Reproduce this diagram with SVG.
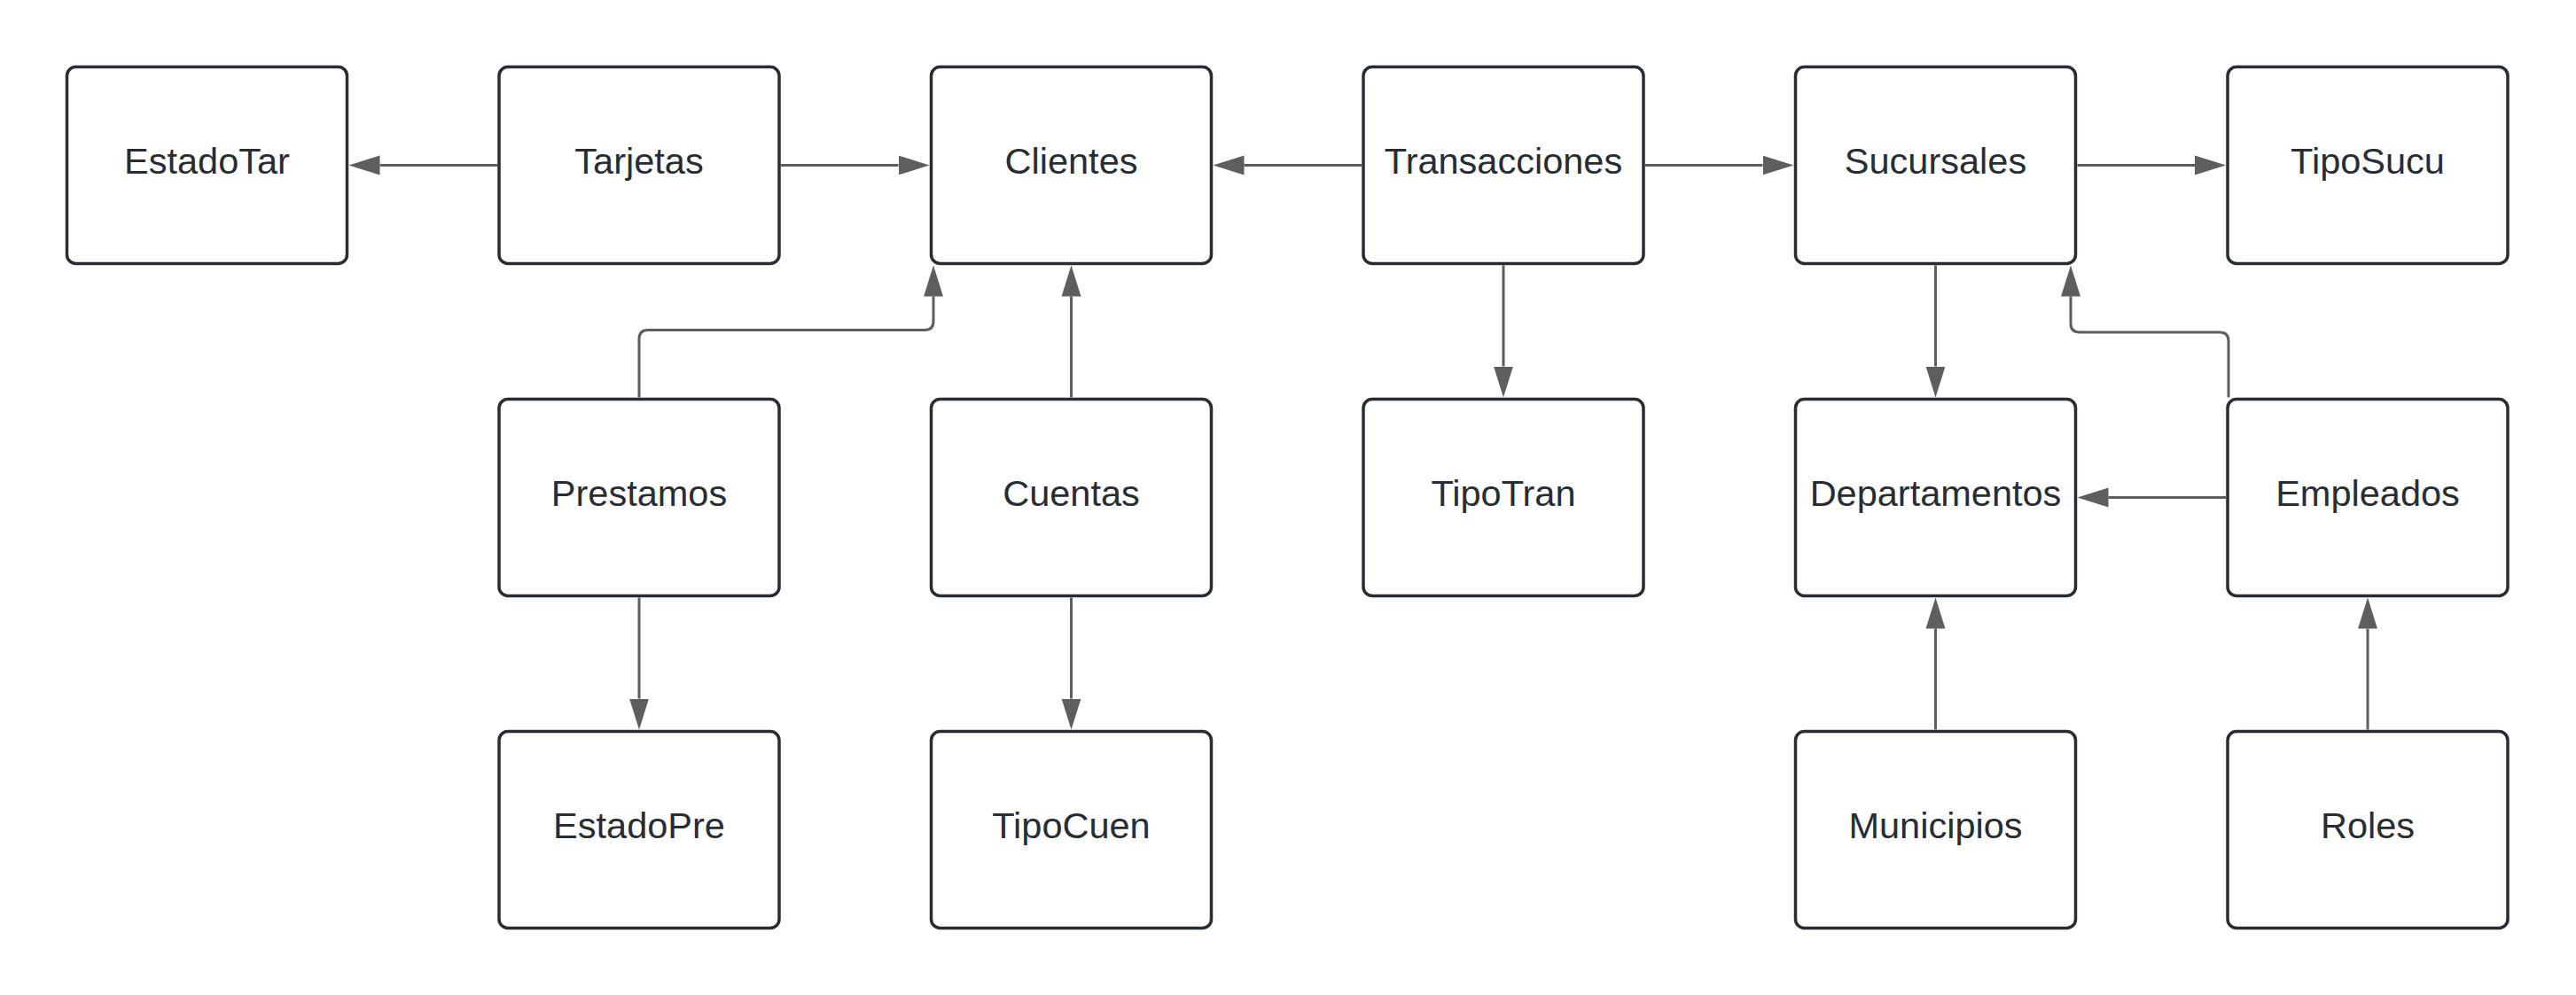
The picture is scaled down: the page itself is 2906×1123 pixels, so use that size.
<svg xmlns="http://www.w3.org/2000/svg" width="2906" height="1123" viewBox="0 0 2906 1123">
<style>
.box{fill:#ffffff;stroke:#282c33;stroke-width:3.5}
.lbl{font-family:"Liberation Sans",Arial,sans-serif;font-size:41.5px;fill:#282c33;text-anchor:middle}
.edge{fill:none;stroke:#5e5e5e;stroke-width:3;marker-end:url(#arr)}
</style>
<defs>
<marker id="arr" markerUnits="userSpaceOnUse" markerWidth="36" markerHeight="24" viewBox="0 -12 36 24" refX="0" refY="0" orient="auto">
<path d="M0,-11 L35,0 L0,11 Z" fill="#5e5e5e"/>
</marker>
</defs>
<rect width="2906" height="1123" fill="#ffffff"/>
<g id="connectors">
<path class="edge" d="M561,186.5 H428.5"/>
<path class="edge" d="M881,186.5 H1013.5"/>
<path class="edge" d="M1536,186.5 H1403.5"/>
<path class="edge" d="M1856,186.5 H1988.5"/>
<path class="edge" d="M2343.5,186.5 H2476"/>
<path class="edge" d="M721,448.5 V382.5 Q721,372.5 731,372.5 H1043 Q1053,372.5 1053,362.5 V334.5"/>
<path class="edge" d="M1208.5,448.5 V334.5"/>
<path class="edge" d="M1696,299.5 V413.5"/>
<path class="edge" d="M2183.5,299.5 V413.5"/>
<path class="edge" d="M2514,448.5 V385 Q2514,375 2504,375 H2346 Q2336,375 2336,365 V334.5"/>
<path class="edge" d="M2511,561.5 H2378.5"/>
<path class="edge" d="M2183.5,823.5 V709.5"/>
<path class="edge" d="M2671,823.5 V709.5"/>
<path class="edge" d="M721,674.5 V788.5"/>
<path class="edge" d="M1208.5,674.5 V788.5"/>
</g>
<g id="EstadoTar"><rect class="box" x="75.5" y="75.5" width="316" height="222" rx="10"/><text class="lbl" x="233.5" y="195.5">EstadoTar</text></g>
<g id="Tarjetas"><rect class="box" x="563" y="75.5" width="316" height="222" rx="10"/><text class="lbl" x="721" y="195.5">Tarjetas</text></g>
<g id="Clientes"><rect class="box" x="1050.5" y="75.5" width="316" height="222" rx="10"/><text class="lbl" x="1208.5" y="195.5">Clientes</text></g>
<g id="Transacciones"><rect class="box" x="1538" y="75.5" width="316" height="222" rx="10"/><text class="lbl" x="1696" y="195.5">Transacciones</text></g>
<g id="Sucursales"><rect class="box" x="2025.5" y="75.5" width="316" height="222" rx="10"/><text class="lbl" x="2183.5" y="195.5">Sucursales</text></g>
<g id="TipoSucu"><rect class="box" x="2513" y="75.5" width="316" height="222" rx="10"/><text class="lbl" x="2671" y="195.5">TipoSucu</text></g>
<g id="Prestamos"><rect class="box" x="563" y="450.5" width="316" height="222" rx="10"/><text class="lbl" x="721" y="570.5">Prestamos</text></g>
<g id="Cuentas"><rect class="box" x="1050.5" y="450.5" width="316" height="222" rx="10"/><text class="lbl" x="1208.5" y="570.5">Cuentas</text></g>
<g id="TipoTran"><rect class="box" x="1538" y="450.5" width="316" height="222" rx="10"/><text class="lbl" x="1696" y="570.5">TipoTran</text></g>
<g id="Departamentos"><rect class="box" x="2025.5" y="450.5" width="316" height="222" rx="10"/><text class="lbl" x="2183.5" y="570.5">Departamentos</text></g>
<g id="Empleados"><rect class="box" x="2513" y="450.5" width="316" height="222" rx="10"/><text class="lbl" x="2671" y="570.5">Empleados</text></g>
<g id="EstadoPre"><rect class="box" x="563" y="825.5" width="316" height="222" rx="10"/><text class="lbl" x="721" y="945.5">EstadoPre</text></g>
<g id="TipoCuen"><rect class="box" x="1050.5" y="825.5" width="316" height="222" rx="10"/><text class="lbl" x="1208.5" y="945.5">TipoCuen</text></g>
<g id="Municipios"><rect class="box" x="2025.5" y="825.5" width="316" height="222" rx="10"/><text class="lbl" x="2183.5" y="945.5">Municipios</text></g>
<g id="Roles"><rect class="box" x="2513" y="825.5" width="316" height="222" rx="10"/><text class="lbl" x="2671" y="945.5">Roles</text></g>
</svg>
